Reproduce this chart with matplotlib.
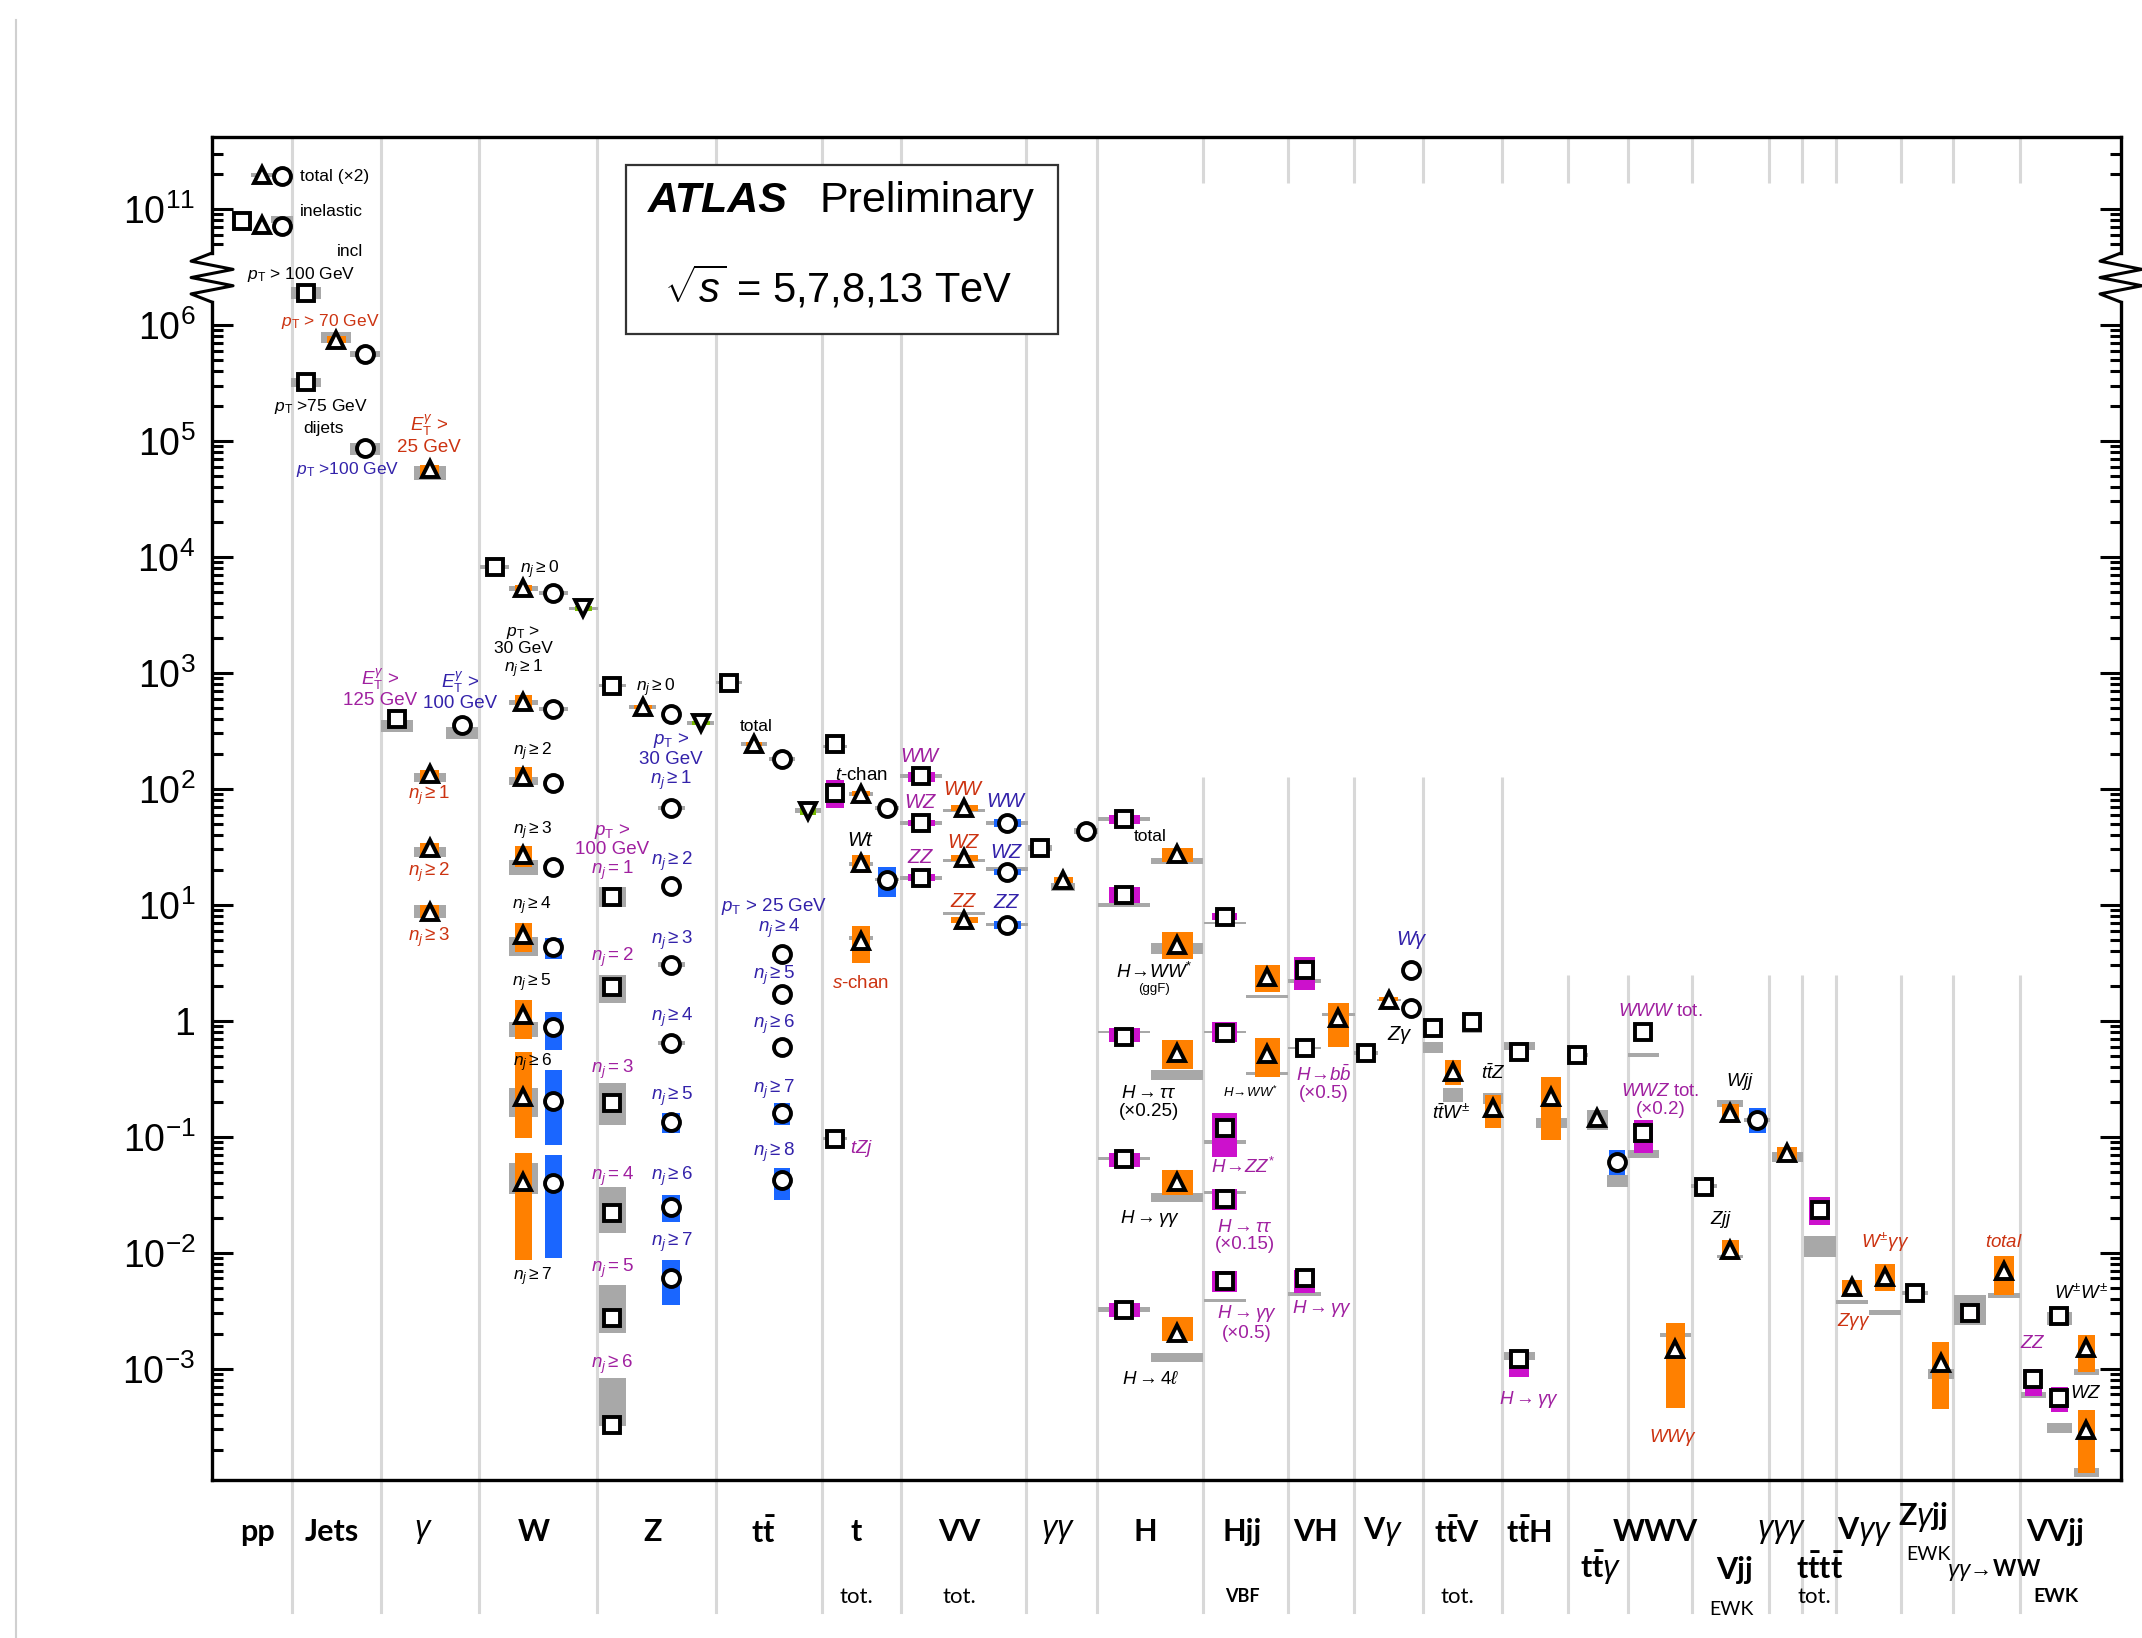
import numpy as np
import matplotlib.pyplot as plt
from matplotlib import transforms
from matplotlib.lines import Line2D
from matplotlib.patches import Rectangle
from matplotlib.ticker import FixedLocator, FuncFormatter, NullFormatter

plt.rcParams['font.family'] = ['Liberation Sans', 'DejaVu Sans']
plt.rcParams['mathtext.fontset'] = 'custom'
plt.rcParams['mathtext.rm'] = 'Liberation Sans'
plt.rcParams['mathtext.it'] = 'Liberation Sans:italic'
plt.rcParams['mathtext.bf'] = 'Liberation Sans:bold'
plt.rcParams['mathtext.sf'] = 'Liberation Sans'

# cross sections [pb]: (sqrt(s) in TeV, measured, data band lo, hi, theory band lo, hi)
pp_xs = [(8, 1.96e11, None, None, 1.88e11, 2.02e11), (13, 1.92e11, None, None, None, None),
         (7, 7.9e10, None, None, None, None), (8, 7.3e10, None, None, None, None),
         (13, 7.1e10, None, None, 7.6e10, 8.7e10)]
jets_xs = [(7, 1.9e6, None, None, 1.66e6, 2.1e6), (8, 7.4e5, 7.0e5, 8.0e5, 7.0e5, 8.7e5),
           (13, 5.6e5, None, None, 5.3e5, 6.0e5), (7, 3.2e5, None, None, 2.9e5, 3.5e5),
           (13, 8.7e4, None, None, 7.6e4, 9.6e4)]
gam_xs = [(8, 5.7e4, 5.0e4, 6.2e4, 4.6e4, 6.1e4), (7, 401, None, None, 310, 394),
          (13, 355, None, None, 270, 340), (8, 135, 115, 146, 115, 138),
          (8, 31, 26, 34, 26, 31.6), (8, 8.7, 7.7, 10, 7.7, 10)]
w_xs = [(7, 8.2e3, None, None, 7.9e3, 8.5e3), (8, 5.4e3, 5.1e3, 5.7e3, 5.1e3, 5.6e3),
        (13, 4.9e3, None, None, 4.7e3, 5.1e3), (5, 3.6e3, 3.4e3, 3.8e3, 3.45e3, 3.7e3),
        (8, 562, 510, 646, 528, 588), (13, 490, None, None, 470, 510),
        (8, 126, 108, 155, 108, 126), (13, 112, None, None, None, None),
        (8, 27, 21, 32, 18, 24.5), (13, 21, 18.5, 24, None, None),
        (8, 5.5, 3.9, 7.0, 3.6, 5.3), (13, 4.3, 3.4, 5.2, None, None),
        (8, 1.13, 0.69, 1.5, 0.73, 0.98), (13, 0.89, 0.56, 1.2, None, None),
        (8, 0.22, 0.098, 0.54, 0.149, 0.264), (13, 0.204, 0.085, 0.38, None, None),
        (8, 0.041, 0.0087, 0.073, 0.032, 0.060), (13, 0.040, 0.0091, 0.070, None, None)]
z_xs = [(7, 773, None, None, 750, 795), (8, 510, 490, 530, 490, 530),
        (13, 444, None, None, None, None), (5, 371, 355, 385, 355, 385),
        (13, 68.5, None, None, 66, 71), (7, 11.7, None, None, 9.6, 14.3),
        (13, 14.6, None, None, None, None), (7, 1.96, None, None, 1.43, 2.5),
        (13, 3.04, None, None, 2.9, 3.2), (7, 0.196, None, None, 0.127, 0.29),
        (13, 0.646, 0.6, 0.7, 0.62, 0.67), (13, 0.135, 0.108, 0.161, None, None),
        (7, 0.0221, None, None, 0.0149, 0.037), (13, 0.025, 0.0185, 0.0316, None, None),
        (7, 0.00275, None, None, 0.00204, 0.0053), (13, 0.0061, 0.00357, 0.0087, None, None),
        (7, 3.3e-4, 2.9e-4, 3.6e-4, 3.2e-4, 8.4e-4)]
tt_xs = [(7, 820, None, None, 795, 845), (8, 244, 235, 255, 235, 252),
         (13, 181, None, None, 175, 188), (5, 65, 60, 71, 62, 68),
         (13, 3.8, None, None, None, None), (13, 1.71, None, None, None, None),
         (13, 0.60, None, None, None, None), (13, 0.161, 0.127, 0.196, None, None),
         (13, 0.042, 0.0286, 0.054, None, None)]
t_xs = [(7, 244, None, None, 225, 240), (7, 92.4, 68.6, 120, None, None),
        (8, 90.6, 86, 96, 86, 94), (13, 68.6, None, None, 66, 71),
        (8, 23, 18.9, 27, 21.5, 23.5), (13, 16.4, 11.7, 21.3, 16, 17),
        (8, 4.9, 3.16, 6.5, 5.0, 5.4), (7, 0.096, None, None, 0.093, 0.099)]
vv_xs = [(7, 129, 115, 140, 124, 134), (7, 51, 48, 54, 49, 53), (7, 17.1, 16, 18.3, 16.5, 17.7),
         (8, 68.6, 64, 73, 63, 67), (8, 25.4, 24, 27, 23.5, 25), (8, 7.4, 6.9, 7.9, 8.1, 8.7),
         (13, 51, 47, 55, 49, 53), (13, 19.2, 18, 20.5, 19.5, 21), (13, 6.7, 6.2, 7.2, 6.6, 7.0)]
gg_xs = [(7, 31, None, None, 29, 33), (8, 16.4, 15.5, 17.3, 13.2, 15.5), (13, 43.4, None, None, 41, 46)]
h_xs = [(7, 55, 50, 60, 53, 57), (8, 27.5, 23.5, 31, 22.5, 25.4),
        (7, 12.2, 10.4, 14.3, 9.6, 10.4), (8, 4.5, 3.42, 5.85, 3.8, 4.7),
        (7, 0.73, 0.65, 0.87, 0.78, 0.82), (8, 0.53, 0.385, 0.686, 0.31, 0.378),
        (7, 0.0646, 0.055, 0.073, 0.0625, 0.067), (8, 0.041, 0.0316, 0.052, 0.0275, 0.033),
        (7, 0.0032, 0.0028, 0.0037, 0.0031, 0.0034), (8, 0.00204, 0.00173, 0.0028, 0.00115, 0.00138)]
hjj_xs = [(7, 7.9, 7.4, 8.5, 6.85, 7.15), (8, 2.4, 1.78, 3.04, 1.56, 1.66),
          (7, 0.79, 0.65, 0.98, 0.78, 0.82), (8, 0.52, 0.33, 0.71, 0.34, 0.36),
          (7, 0.12, 0.067, 0.161, 0.087, 0.093), (7, 0.029, 0.0235, 0.0356, 0.032, 0.034),
          (7, 0.0057, 0.0046, 0.0069, 0.00375, 0.004)]
vh_xs = [(7, 2.75, 1.85, 3.56, 2.13, 2.27), (8, 1.06, 0.6, 1.43, 1.09, 1.17),
         (7, 0.585, None, None, 0.57, 0.6), (7, 0.006, 0.0045, 0.0071, 0.00425, 0.00455)]
vg_xs = [(7, 0.53, None, None, 0.51, 0.55), (13, 2.75, None, None, None, None),
         (8, 1.52, 1.47, 1.6, 1.47, 1.55), (13, 1.29, None, None, None, None)]
ttv_xs = [(7, 0.87, 0.85, 0.89, 0.53, 0.66), (7, 0.98, None, None, 0.78, 0.82),
          (8, 0.36, 0.28, 0.46, 0.20, 0.264), (8, 0.178, 0.12, 0.23, 0.19, 0.24)]
tth_xs = [(7, 0.54, 0.5, 0.6, 0.56, 0.65), (8, 0.22, 0.094, 0.33, 0.12, 0.146),
          (7, 0.00122, 0.00085, 0.00146, 0.0012, 0.0014)]
ttg_xs = [(7, 0.51, None, None, 0.49, 0.53), (8, 0.146, None, None, 0.115, 0.17),
          (13, 0.061, 0.047, 0.077, 0.037, 0.047)]
wwv_xs = [(7, 0.80, None, None, 0.49, 0.53), (7, 0.108, 0.073, 0.14, 0.065, 0.077),
          (8, 0.00149, 0.00046, 0.0025, 0.00189, 0.00204)]
vjj_xs = [(7, 0.037, None, None, 0.036, 0.039), (8, 0.0106, 0.0087, 0.0129, 0.0091, 0.0096),
          (8, 0.161, 0.132, 0.19, 0.18, 0.208), (13, 0.14, 0.108, 0.178, 0.135, 0.145)]
ggg_xs = [(8, 0.073, 0.061, 0.082, 0.061, 0.074)]
tttt_xs = [(7, 0.0235, 0.0174, 0.0304, 0.0092, 0.014)]
vgg_xs = [(8, 0.0051, 0.0043, 0.0058, 0.0036, 0.0039), (8, 0.0062, 0.0047, 0.008, 0.0029, 0.0032)]
zgjj_xs = [(7, 0.0045, None, None, 0.0043, 0.0047), (8, 0.00113, 0.00045, 0.0017, 0.00082, 0.001)]
ggww_xs = [(7, 0.003, 0.0029, 0.0031, 0.0024, 0.0043), (8, 0.0069, 0.0043, 0.0094, 0.0041, 0.0045)]
vvjj_xs = [(7, 0.00286, 0.0026, 0.0029, 0.0024, 0.0031), (8, 0.00152, 0.00094, 0.00196, 0.00089, 0.001),
           (7, 8.2e-4, 5.8e-4, 0.001, 5.6e-4, 6.3e-4), (7, 5.6e-4, 4.2e-4, 7.0e-4, 2.8e-4, 3.4e-4),
           (8, 2.98e-4, 1.27e-4, 4.4e-4, 1.17e-4, 1.4e-4)]

# horizontal slot of every measurement (layout)
pp_x = [5.0, 7.0, 3.0, 5.0, 7.0]
jets_x = [9.4, 12.4, 15.3, 9.4, 15.3]
gam_x = [21.75, 18.5, 25.0, 21.75, 21.75, 21.75]
w_x = [28.25, 31.1, 34.1, 37.1, 31.1, 34.1, 31.1, 34.1, 31.1, 34.1,
       31.1, 34.1, 31.1, 34.1, 31.1, 34.1, 31.1, 34.1]
z_x = [40.0, 43.05, 45.9, 48.85, 45.9, 40.0, 45.9, 40.0, 45.9, 40.0,
       45.9, 45.9, 40.0, 45.9, 40.0, 45.9, 40.0]
tt_x = [51.7, 54.2, 57.0, 59.6, 57.0, 57.0, 57.0, 57.0, 57.0]
t_x = [62.25, 62.25, 64.9, 67.5, 64.9, 67.5, 64.9, 62.25]
vv_x = [70.9, 70.9, 70.9, 75.2, 75.2, 75.2, 79.5, 79.5, 79.5]
gg_x = [82.8, 85.1, 87.4]
h_x = [91.2, 96.5, 91.2, 96.5, 91.2, 96.5, 91.2, 96.5, 91.2, 96.5]
hjj_x = [101.25, 105.5, 101.25, 105.5, 101.25, 101.25, 101.25]
vh_x = [109.25, 112.6, 109.25, 109.25]
vg_x = [115.35, 119.9, 117.65, 119.9]
ttv_x = [122.1, 126.0, 124.05, 128.1]
tth_x = [130.7, 133.9, 130.7]
ttg_x = [136.5, 138.5, 140.5]
wwv_x = [143.1, 143.1, 146.3]
vjj_x = [149.2, 151.8, 151.8, 154.5]
ggg_x = [157.5]
tttt_x = [160.75]
vgg_x = [164.0, 167.3]
zgjj_x = [170.25, 172.85]
ggww_x = [175.8, 179.2]
vvjj_x = [184.7, 187.4, 182.1, 184.7, 187.4]

# (rows, slots, data band width, theory band width)
groups = [(pp_xs, pp_x, 1.9, 2.2), (jets_xs, jets_x, 1.9, 3.0), (gam_xs, gam_x, 1.9, 3.2),
          (w_xs, w_x, 1.7, 2.9), (z_xs, z_x, 1.8, 2.7), (tt_xs, tt_x, 1.6, 2.6),
          (t_xs, t_x, 1.8, 2.4), (vv_xs, vv_x, 2.7, 4.2), (gg_xs, gg_x, 1.9, 2.4),
          (h_xs, h_x, 3.1, 5.2), (hjj_xs, hjj_x, 2.5, 4.2), (vh_xs, vh_x, 2.1, 3.3),
          (vg_xs, vg_x, 1.9, 2.4), (ttv_xs, ttv_x, 1.6, 2.0), (tth_xs, tth_x, 2.0, 3.1),
          (ttg_xs, ttg_x, 1.6, 2.1), (wwv_xs, wwv_x, 1.9, 3.1), (vjj_xs, vjj_x, 1.7, 2.6),
          (ggg_xs, ggg_x, 2.0, 3.1), (tttt_xs, tttt_x, 2.1, 3.2), (vgg_xs, vgg_x, 2.0, 3.2),
          (zgjj_xs, zgjj_x, 1.7, 2.6), (ggww_xs, ggww_x, 2.0, 3.2), (vvjj_xs, vvjj_x, 1.7, 2.5)]

# category separators, and where the separator is interrupted (lower end of the gap)
bounds = [8.0, 16.9, 26.7, 38.5, 50.4, 61.0, 68.9, 81.4, 88.5, 99.1, 107.6, 114.2, 121.1,
          129.0, 135.6, 141.6, 148.0, 155.7, 159.0, 162.4, 168.9, 174.1, 180.8]
gap_from = [None] * 9 + [126] * 5 + [2.5] * 9
gap_top = 1.68e11

red, blue, purple = '#cc3311', '#3322aa', '#a020a0'
NJ = r'$n_j \geq %d$'
EQ = r'$n_j = %d$'
S1, S2, S3 = 13.5, 12.5, 14.5   # label sizes: regular, small (W), process names
notes = [
    (8.8, 1.92e11, 'total (×2)', 'k', 12.5, 'left'),
    (8.8, 9.4e10, 'inelastic', 'k', 12.5, 'left'),
    (13.8, 4.3e10, 'incl', 'k', 12.5, 'center'),
    (8.9, 2.7e6, r'$p_{\rm T}$ > 100 GeV', 'k', 12.5, 'center'),
    (11.8, 1.06e6, r'$p_{\rm T}$ > 70 GeV', red, 12.5, 'center'),
    (10.9, 1.96e5, r'$p_{\rm T}$ >75 GeV', 'k', 12.5, 'center'),
    (11.1, 1.27e5, 'dijets', 'k', 12.5, 'center'),
    (13.6, 5.7e4, r'$p_{\rm T}$ >100 GeV', blue, 12.5, 'center'),
    (21.7, 1.13e5, r'$E_{\rm T}^{\gamma}$ >' + '\n25 GeV', red, S1, 'center'),
    (16.8, 743, r'$E_{\rm T}^{\gamma}$ >' + '\n125 GeV', purple, S1, 'center'),
    (24.8, 700, r'$E_{\rm T}^{\gamma}$ >' + '\n100 GeV', blue, S1, 'center'),
    (21.65, 87, NJ % 1, red, S1, 'center'),
    (21.65, 18.9, NJ % 2, red, S1, 'center'),
    (21.65, 5.2, NJ % 3, red, S1, 'center'),
    (32.8, 7.7e3, NJ % 0, 'k', S2, 'center'),
    (31.1, 1517, r'$p_{\rm T}$ >' + '\n30 GeV\n' + NJ % 1, 'k', S2, 'center'),
    (32.0, 208, NJ % 2, 'k', S2, 'center'),
    (32.0, 43.4, NJ % 3, 'k', S2, 'center'),
    (32.0, 9.8, NJ % 4, 'k', S2, 'center'),
    (32.0, 2.13, NJ % 5, 'k', S2, 'center'),
    (32.0, 0.435, NJ % 6, 'k', S2, 'center'),
    (32.0, 0.0062, NJ % 7, 'k', S2, 'center'),
    (44.4, 743, NJ % 0, 'k', S2, 'center'),
    (45.9, 171, r'$p_{\rm T}$ >' + '\n30 GeV\n' + NJ % 1, blue, S1, 'center'),
    (40.0, 28.6, r'$p_{\rm T}$ >' + '\n100 GeV\n' + EQ % 1, purple, S1, 'center'),
    (46.0, 23.5, NJ % 2, blue, S1, 'center'),
    (40.0, 3.49, EQ % 2, purple, S1, 'center'),
    (46.0, 4.9, NJ % 3, blue, S1, 'center'),
    (40.0, 0.378, EQ % 3, purple, S1, 'center'),
    (46.0, 1.08, NJ % 4, blue, S1, 'center'),
    (46.0, 0.225, NJ % 5, blue, S1, 'center'),
    (40.0, 0.0452, EQ % 4, purple, S1, 'center'),
    (46.0, 0.0452, NJ % 6, blue, S1, 'center'),
    (40.0, 0.0074, EQ % 5, purple, S1, 'center'),
    (46.0, 0.0122, NJ % 7, blue, S1, 'center'),
    (40.0, 0.00108, NJ % 6, purple, S1, 'center'),
    (54.4, 342, 'total', 'k', 12.5, 'center'),
    (56.2, 9.6, r'$p_{\rm T}$ > 25 GeV', blue, S1, 'center'),
    (56.7, 6.3, NJ % 4, blue, S1, 'center'),
    (56.2, 2.44, NJ % 5, blue, S1, 'center'),
    (56.2, 0.924, NJ % 6, blue, S1, 'center'),
    (56.2, 0.254, NJ % 7, blue, S1, 'center'),
    (56.2, 0.0728, NJ % 8, blue, S1, 'center'),
    (64.9, 129, r'$t$-chan', 'k', S1, 'center'),
    (64.9, 35.6, r'$Wt$', 'k', S3, 'center'),
    (64.9, 2.08, r'$s$-chan', red, S1, 'center'),
    (65.0, 0.0788, r'$tZj$', purple, S1, 'center'),
    (70.9, 189, r'$WW$', purple, S3, 'center'),
    (70.9, 75.7, r'$WZ$', purple, S3, 'center'),
    (70.9, 25.4, r'$ZZ$', purple, S3, 'center'),
    (75.2, 98, r'$WW$', red, S3, 'center'),
    (75.2, 34.2, r'$WZ$', red, S3, 'center'),
    (75.2, 10.6, r'$ZZ$', red, S3, 'center'),
    (79.5, 77.3, r'$WW$', blue, S3, 'center'),
    (79.5, 28.1, r'$WZ$', blue, S3, 'center'),
    (79.5, 10.4, r'$ZZ$', blue, S3, 'center'),
    (93.85, 38.6, 'total', 'k', 12.5, 'center'),
    (94.2, 2.64, r'$H\!\rightarrow\!WW^{*}$', 'k', S1, 'center'),
    (94.2, 1.89, '(ggF)', 'k', 9.5, 'center'),
    (93.7, 0.198, r'$H \rightarrow \tau\tau$' + '\n(×0.25)', 'k', S1, 'center'),
    (93.85, 0.0196, r'$H \rightarrow \gamma\gamma$', 'k', S1, 'center'),
    (93.85, 8.0e-4, r'$H \rightarrow 4\ell$', 'k', S1, 'center'),
    (103.8, 0.239, r'$H\!\rightarrow\!WW^{*}$', 'k', 9.5, 'center'),
    (103.1, 0.055, r'$H\!\rightarrow\!ZZ^{*}$', purple, S1, 'center'),
    (103.3, 0.0139, r'$H \rightarrow \tau\tau$' + '\n(×0.15)', purple, S1, 'center'),
    (103.5, 0.00252, r'$H \rightarrow \gamma\gamma$' + '\n(×0.5)', purple, S1, 'center'),
    (111.2, 0.289, r'$H\!\rightarrow\! b\bar{b}$' + '\n(×0.5)', purple, S1, 'center'),
    (111.05, 0.00329, r'$H \rightarrow \gamma\gamma$', purple, S1, 'center'),
    (120.0, 4.99, r'$W\gamma$', blue, S3, 'center'),
    (118.8, 0.757, r'$Z\gamma$', 'k', S3, 'center'),
    (128.1, 0.356, r'$t\bar{t}Z$', 'k', S1, 'center'),
    (123.95, 0.161, r'$t\bar{t}W^{\pm}$', 'k', S1, 'center'),
    (131.7, 5.4e-4, r'$H \rightarrow \gamma\gamma$', purple, S1, 'center'),
    (144.85, 1.2, r'$WWW$ tot.', purple, S1, 'center'),
    (144.85, 0.206, r'$WWZ$ tot.' + '\n(×0.2)', purple, S1, 'center'),
    (146.05, 2.54e-4, r'$WW\gamma$', red, S1, 'center'),
    (152.8, 0.298, r'$Wjj$', 'k', S1, 'center'),
    (150.9, 0.0192, r'$Zjj$', 'k', S1, 'center'),
    (167.3, 0.0124, r'$W^{\pm}\gamma\gamma$', red, S1, 'center'),
    (164.2, 0.00254, r'$Z\gamma\gamma$', red, S1, 'center'),
    (179.2, 0.0122, r'$total$', red, S1, 'center'),
    (186.95, 0.00452, r'$W^{\pm}W^{\pm}$', 'k', S1, 'center'),
    (182.1, 0.00164, r'$ZZ$', purple, S1, 'center'),
    (187.4, 6.1e-4, r'$WZ$', 'k', S1, 'center'),
]

# process names under the axis: (x, axes y, text, size, weight)
cat_labels = [
    (4.5, -0.0387, 'pp', 22, 'bold'), (12.0, -0.0387, 'Jets', 22, 'bold'),
    (21.1, -0.0387, r'$\gamma$', 22, 'bold'), (32.2, -0.0387, 'W', 22, 'bold'),
    (44.05, -0.0387, 'Z', 22, 'bold'), (55.2, -0.0387, r'$\mathdefault{t\bar{t}}$', 22, 'bold'),
    (64.4, -0.0387, 't', 22, 'bold'), (74.75, -0.0387, 'VV', 22, 'bold'),
    (84.6, -0.0387, r'$\gamma\gamma$', 22, 'bold'), (93.3, -0.0387, 'H', 22, 'bold'),
    (103.0, -0.0387, 'Hjj', 22, 'bold'), (110.4, -0.0387, 'VH', 22, 'bold'),
    (117.1, -0.0387, r'V$\gamma$', 22, 'bold'), (124.5, -0.0387, r'$\mathdefault{t\bar{t}V}$', 22, 'bold'),
    (131.7, -0.0387, r'$\mathdefault{t\bar{t}H}$', 22, 'bold'), (144.3, -0.0387, 'WWV', 22, 'bold'),
    (156.95, -0.0387, r'$\gamma\gamma\gamma$', 22, 'bold'), (165.25, -0.0387, r'V$\gamma\gamma$', 22, 'bold'),
    (184.35, -0.0387, 'VVjj', 22, 'bold'),
    (138.9, -0.0655, r'$\mathdefault{t\bar{t}}\gamma$', 22, 'bold'), (152.3, -0.067, 'Vjj', 22, 'bold'),
    (160.75, -0.0655, r'$\mathdefault{t\bar{t}t\bar{t}}$', 22, 'bold'), (171.1, -0.0276, r'Z$\gamma$jj', 22, 'bold'),
    (178.2, -0.067, r'$\gamma\gamma\!\rightarrow\!$WW', 16, 'bold'),
    (64.4, -0.087, 'tot.', 16, 'normal'), (74.75, -0.087, 'tot.', 16, 'normal'),
    (124.5, -0.087, 'tot.', 16, 'normal'), (160.2, -0.087, 'tot.', 16, 'normal'),
    (103.0, -0.087, 'VBF', 13, 'bold'), (151.9, -0.0968, 'EWK', 14, 'normal'),
    (171.6, -0.0558, 'EWK', 14, 'normal'), (184.35, -0.087, 'EWK', 14, 'bold'),
]

# marker shape and data-band colour per centre-of-mass energy
styles = {5: ('v', '#77bb00', 11.5), 7: ('s', '#cc11cc', 12.2),
          8: ('^', '#ff8000', 11.5), 13: ('o', '#1a66ff', 12.2)}
theory_col = '#a8a8a8'
grid_col = '#d8d8d8'

# broken log axis: 10^6.5 .. 10^10.6 squeezed into a small gap
B0, B1, GAP = 6.5, 10.6, 0.1


def fwd(v):
    lv = np.log10(np.clip(np.asarray(v, dtype=float), 1e-30, None))
    mid = B0 + (lv - B0) * GAP / (B1 - B0)
    return np.where(lv <= B0, lv, np.where(lv >= B1, lv - (B1 - B0) + GAP, mid))


def inv(t):
    t = np.asarray(t, dtype=float)
    mid = B0 + (t - B0) * (B1 - B0) / GAP
    lv = np.where(t <= B0, t, np.where(t >= B0 + GAP, t + (B1 - B0) - GAP, mid))
    return 10.0 ** lv


fig = plt.figure(figsize=(21.42, 16.38), dpi=100, facecolor='white')
ax = fig.add_axes([0.0990, 0.0965, 0.8912, 0.8199])
ax.set_yscale('function', functions=(fwd, inv))
ylo, yhi = 1.1e-4, 4.17e11

# category separators
below = transforms.blended_transform_factory(ax.transData, ax.transAxes)
for x, g in zip(bounds, gap_from):
    ax.plot([x, x], [-0.098, 0], color=grid_col, lw=2.2, transform=below, clip_on=False, zorder=0)
    if g is None:
        ax.vlines(x, ylo, yhi, color=grid_col, lw=2.2, zorder=0)
    else:
        ax.vlines(x, ylo, g, color=grid_col, lw=2.2, zorder=0)
        ax.vlines(x, gap_top, yhi, color=grid_col, lw=2.2, zorder=0)

# measurements: theory band, data band, marker
for rows, xs, bw, tw in groups:
    for (e, v, dlo, dhi, tlo, thi), x in zip(rows, xs):
        mk, col, ms = styles[e]
        if tlo is not None:
            ax.bar(x, thi - tlo, bottom=tlo, width=tw, color=theory_col, linewidth=0, zorder=2)
        if dlo is not None:
            ax.bar(x, dhi - dlo, bottom=dlo, width=bw, color=col, linewidth=0, zorder=3)
        ax.plot([x], [v], ls='none', marker=mk, ms=ms, mfc='white', mec='black', mew=2.8, zorder=4)

for x, y, s, c, size, ha in notes:
    ax.text(x, y, s, color=c, fontsize=size, ha=ha, va='center', linespacing=1.05, zorder=5)

for x, y, s, size, wt in cat_labels:
    ax.text(x, y, s, fontsize=size, fontweight=wt, family=['Lato', 'DejaVu Sans'],
            ha='center', va='center', transform=below, clip_on=False)

# ATLAS box
ax.add_patch(Rectangle((0.217, 0.853), 0.226, 0.126, transform=ax.transAxes,
                       facecolor='white', edgecolor='#333333', lw=1.6, zorder=6))
ax.text(0.265, 0.952, 'ATLAS', transform=ax.transAxes, fontsize=31, fontweight='bold',
        fontstyle='italic', ha='center', va='center', zorder=7)
ax.text(0.3745, 0.952, 'Preliminary', transform=ax.transAxes, fontsize=31,
        ha='center', va='center', zorder=7)
ax.text(0.328, 0.888, r'$\sqrt{s}$ = 5,7,8,13 TeV', transform=ax.transAxes, fontsize=30,
        ha='center', va='center', zorder=7)

# axis limits, ticks
ax.set_xlim(0, 190.9)
ax.set_ylim(ylo, yhi)
ax.set_xticks([])
majors = [1e-3, 1e-2, 1e-1, 1, 10, 100, 1e3, 1e4, 1e5, 1e6, 1e11]
minors = [k * 10.0 ** n for n in range(-4, 6) for k in range(2, 10)] + \
         [k * 1e10 for k in range(5, 10)] + [2e11, 3e11]
ax.yaxis.set_major_locator(FixedLocator(majors))
ax.yaxis.set_minor_locator(FixedLocator([m for m in minors if ylo < m < yhi]))


def tick_fmt(v, pos):
    n = int(round(np.log10(v)))
    return r'$\mathdefault{1}$' if n == 0 else r'$\mathdefault{10^{%d}}$' % n


ax.yaxis.set_major_formatter(FuncFormatter(tick_fmt))
ax.yaxis.set_minor_formatter(NullFormatter())
ax.tick_params(axis='y', which='both', direction='in', left=True, right=True, width=2.2)
ax.tick_params(axis='y', which='major', length=15, labelsize=27, pad=12)
ax.tick_params(axis='y', which='minor', length=8)

# frame with broken left/right spines
for side in ['top', 'bottom']:
    ax.spines[side].set_linewidth(2.4)
for side in ['left', 'right']:
    ax.spines[side].set_visible(False)
zy = np.linspace(0.9136, 0.877, 7)
zx = np.array([0, -0.011, 0.011, -0.011, 0.011, -0.011, 0])
for x0 in [0, 1]:
    ax.plot([x0, x0], [0, 0.877], color='black', lw=2.4, transform=ax.transAxes, clip_on=False)
    ax.plot([x0, x0], [0.9136, 1], color='black', lw=2.4, transform=ax.transAxes, clip_on=False)
    ax.plot(x0 + zx, zy, color='black', lw=2.2, transform=ax.transAxes, clip_on=False)

fig.add_artist(Line2D([0.0075, 0.0075], [0, 0.988], color='#d0d0d0', lw=1.5))

fig.savefig('out.png', dpi=100)
